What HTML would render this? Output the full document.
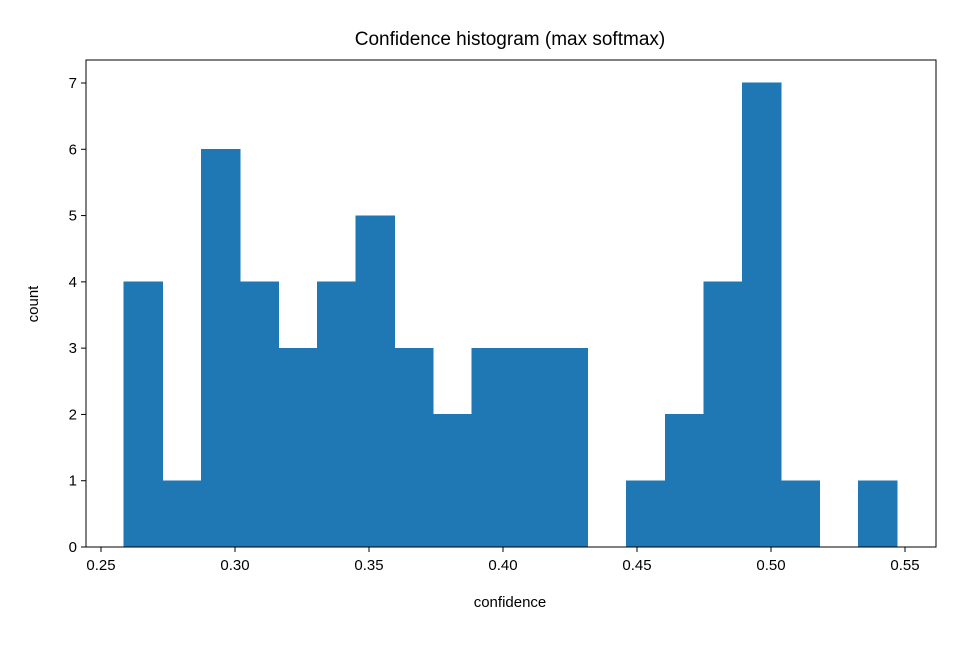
<!DOCTYPE html>
<html><head><meta charset="utf-8"><style>
body{margin:0;background:#fff;}
svg text{font-family:"Liberation Sans","DejaVu Sans",sans-serif;fill:#000;}
</style></head><body>
<svg id="chart" width="960" height="640">
<rect width="960" height="640" fill="#fff"/>
<text x="510" y="45" font-size="19" text-anchor="middle">Confidence histogram (max softmax)</text>
<g id="bars" shape-rendering="crispEdges"></g>
<g id="axes"></g>
<text x="510" y="607" font-size="15" text-anchor="middle">confidence</text>
<text x="0" y="0" font-size="15" text-anchor="middle" transform="translate(38,304) rotate(-90)">count</text>
</svg>
<script>
const binStart = 0.2586;
const binWidth = 0.01442;
const counts = [4,1,6,4,3,4,5,3,2,3,3,3,0,1,2,4,7,1,0,1];
const xTicks = [0.25,0.30,0.35,0.40,0.45,0.50,0.55];
const xTickLabels = ["0.25","0.30","0.35","0.40","0.45","0.50","0.55"];
const yTicks = [0,1,2,3,4,5,6,7];

const L=86,R=936,T=60,B=547;
function xs(v){return 101+(v-0.25)*2680;}
function ys(v){return B-v*(547-83)/7;}
const NS="http://www.w3.org/2000/svg";
const bars=document.getElementById('bars');
counts.forEach((c,i)=>{
  if(c<=0) return;
  const x0=xs(binStart+i*binWidth), x1=xs(binStart+(i+1)*binWidth);
  const r=document.createElementNS(NS,'rect');
  r.setAttribute('x',x0);r.setAttribute('width',x1-x0);
  r.setAttribute('y',ys(c));r.setAttribute('height',B-ys(c));
  r.setAttribute('fill','#1f77b4');
  r.setAttribute('stroke','#1f77b4');
  r.setAttribute('stroke-width','0.6');
  
  
  bars.appendChild(r);
});
const ax=document.getElementById('axes');
const frame=document.createElementNS(NS,'rect');
frame.setAttribute('x',L);frame.setAttribute('y',T);frame.setAttribute('width',R-L);frame.setAttribute('height',B-T);
frame.setAttribute('fill','none');frame.setAttribute('stroke','#000');frame.setAttribute('stroke-width','1');


ax.appendChild(frame);
xTicks.forEach((t,i)=>{
  const x=xs(t);
  const l=document.createElementNS(NS,'line');
  l.setAttribute('x1',x);l.setAttribute('x2',x);l.setAttribute('y1',B);l.setAttribute('y2',B+5);l.setAttribute('stroke','#000');
  
  
  ax.appendChild(l);
  const tx=document.createElementNS(NS,'text');
  tx.setAttribute('x',x);tx.setAttribute('y',B+23);tx.setAttribute('font-size','15');tx.setAttribute('text-anchor','middle');
  tx.textContent=xTickLabels[i];
  
  
  ax.appendChild(tx);
});
yTicks.forEach(t=>{
  const y=ys(t);
  const l=document.createElementNS(NS,'line');
  l.setAttribute('x1',L-5);l.setAttribute('x2',L);l.setAttribute('y1',y);l.setAttribute('y2',y);l.setAttribute('stroke','#000');
  
  
  ax.appendChild(l);
  const tx=document.createElementNS(NS,'text');
  tx.setAttribute('x',L-9);tx.setAttribute('y',y+5);tx.setAttribute('font-size','15');tx.setAttribute('text-anchor','end');
  tx.textContent=String(t);
  
  
  ax.appendChild(tx);
});
</script>
</body></html>
